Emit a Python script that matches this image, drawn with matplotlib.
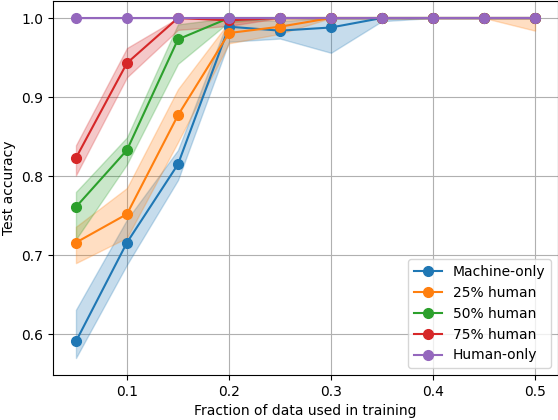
import numpy as np
from matplotlib import pyplot as plt

# Fraction of training data
fractions = [0.05, 0.10, 0.15, 0.20, 0.25, 0.30, 0.35, 0.40, 0.45, 0.50]
labels = ["Machine-only", "25% human", "50% human", "75% human", "Human-only"]

# Mean test accuracy per setting
machine_mean = [0.591, 0.716, 0.815, 0.989, 0.984, 0.988, 1.0, 1.0, 1.0, 1.0]
human25_mean = [0.716, 0.752, 0.877, 0.981, 0.989, 1.0, 1.0, 1.0, 1.0, 1.0]
human50_mean = [0.761, 0.833, 0.973, 1.0, 1.0, 1.0, 1.0, 1.0, 1.0, 1.0]
human75_mean = [0.823, 0.943, 1.0, 0.997, 1.0, 1.0, 1.0, 1.0, 1.0, 1.0]
human_mean = [1.0, 1.0, 1.0, 1.0, 1.0, 1.0, 1.0, 1.0, 1.0, 1.0]

# Lower / upper bounds of shaded bands
machine_lo = [0.570, 0.688, 0.795, 0.970, 0.974, 0.956, 0.996, 1.0, 1.0, 1.0]
machine_hi = [0.631, 0.745, 0.833, 1.0, 0.996, 1.0, 1.0, 1.0, 1.0, 1.0]
human25_lo = [0.690, 0.722, 0.843, 0.968, 0.980, 1.0, 1.0, 1.0, 1.0, 0.984]
human25_hi = [0.736, 0.785, 0.910, 0.995, 0.998, 1.0, 1.0, 1.0, 1.0, 1.0]
human50_lo = [0.720, 0.815, 0.942, 0.995, 1.0, 1.0, 1.0, 1.0, 1.0, 1.0]
human50_hi = [0.780, 0.849, 0.992, 1.0, 1.0, 1.0, 1.0, 1.0, 1.0, 1.0]
human75_lo = [0.801, 0.925, 0.985, 0.990, 1.0, 1.0, 1.0, 1.0, 1.0, 1.0]
human75_hi = [0.839, 0.962, 1.0, 1.0, 1.0, 1.0, 1.0, 1.0, 1.0, 1.0]
human_lo = [1.0] * 10
human_hi = [1.0] * 10

means = [machine_mean, human25_mean, human50_mean, human75_mean, human_mean]
lows = [machine_lo, human25_lo, human50_lo, human75_lo, human_lo]
highs = [machine_hi, human25_hi, human50_hi, human75_hi, human_hi]

fig = plt.figure(figsize=(5.58, 4.2), dpi=100)
ax = fig.add_axes([53 / 558, 45 / 420, 505 / 558, 374 / 420])

for lab, m, lo, hi in zip(labels, means, lows, highs):
    line, = ax.plot(fractions, m, marker='o', markersize=7, label=lab)
    ax.fill_between(fractions, lo, hi, color=line.get_color(), alpha=0.25)

ax.grid(True)
ax.set_axisbelow(True)
ax.set_xticks([0.1, 0.2, 0.3, 0.4, 0.5])
ax.set_xlabel("Fraction of data used in training")
ax.set_ylabel("Test accuracy")
ax.legend(loc='lower right')

plt.savefig("out.png", dpi=100)
